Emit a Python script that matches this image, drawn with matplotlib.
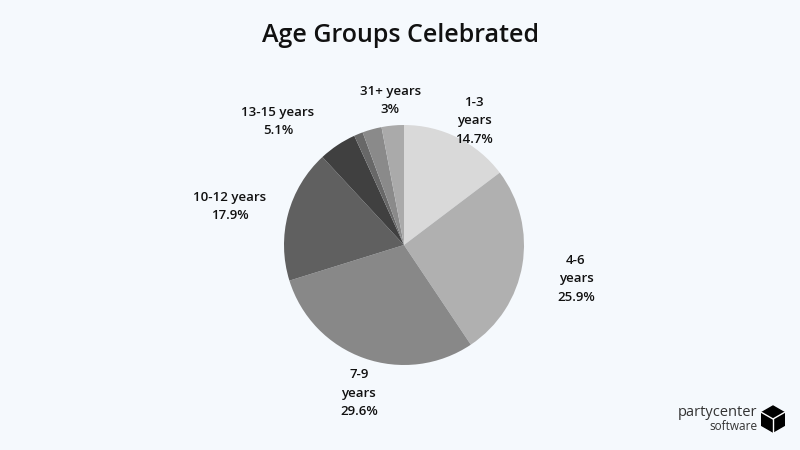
import numpy as np
import matplotlib
matplotlib.use('Agg')
import matplotlib.pyplot as plt
from matplotlib.patches import Polygon

# data
groups = ['1-3 years', '4-6 years', '7-9 years', '10-12 years', '13-15 years',
          '16-18 years', '19-30 years', '31+ years']
shares = [14.7, 25.9, 29.6, 17.9, 5.1, 1.2, 2.6, 3.0]
colors = ['#d9d9d9', '#b0b0b0', '#888888', '#606060', '#404040',
          '#686868', '#8a8a8a', '#aaaaaa']
# label text as shown (small slices unlabeled)
label_text = ['1-3\nyears\n14.7%', '4-6\nyears\n25.9%', '7-9\nyears\n29.6%',
              '10-12 years\n17.9%', '13-15 years\n5.1%', None, None, '31+ years\n3%']
# label placement: radius factor and angle nudge (deg)
label_rad = [1.19, 1.46, 1.29, 1.49, 1.47, 0, 0, 1.21]
label_nudge = [-3, -1.5, 2.5, 2.5, 12, 0, 0, 0]

BG = '#f5f9fd'
plt.rcParams['font.family'] = ['Open Sans', 'DejaVu Sans']

fig = plt.figure(figsize=(8, 4.5), dpi=100, facecolor=BG)
ax = fig.add_axes([0, 0, 1, 1])
ax.set_facecolor(BG)

cx, cy, R = 404, 450 - 245, 120
wedges, _ = ax.pie(shares, colors=colors, startangle=90, counterclock=False,
                   center=(cx, cy), radius=R, wedgeprops=dict(linewidth=0))

for w, txt, rf, nd in zip(wedges, label_text, label_rad, label_nudge):
    if txt is None:
        continue
    ang = np.deg2rad((w.theta1 + w.theta2) / 2 + nd)
    ax.text(cx + rf * R * np.cos(ang), cy + rf * R * np.sin(ang), txt,
            ha='center', va='center', fontsize=9.5, color='#111111',
            fontweight='semibold', linespacing=1.55)

ax.set_xlim(0, 800)
ax.set_ylim(0, 450)
ax.set_aspect('equal')
ax.axis('off')

fig.text(0.5, 1 - 35 / 450, 'Age Groups Celebrated', ha='center', va='center',
         fontsize=18, fontweight='semibold', color='#111111')

# logo
fig.text(757 / 800, 1 - 412 / 450, 'partycenter', ha='right', va='center',
         fontsize=10.5, color='#333333')
fig.text(757 / 800, 1 - 426 / 450, 'software', ha='right', va='center',
         fontsize=8.5, color='#333333')
lx, ly, s = 773, 450 - 419, 13
hexa = [(lx, ly + s), (lx + s * 0.87, ly + s / 2), (lx + s * 0.87, ly - s / 2),
        (lx, ly - s), (lx - s * 0.87, ly - s / 2), (lx - s * 0.87, ly + s / 2)]
ax.add_patch(Polygon(hexa, closed=True, color='black'))
ax.plot([lx - s * 0.87, lx, lx + s * 0.87], [ly + s / 2, ly, ly + s / 2],
        color='white', lw=1)
ax.plot([lx, lx], [ly, ly - s], color='white', lw=1)

fig.savefig('out.png', dpi=100, facecolor=BG)
